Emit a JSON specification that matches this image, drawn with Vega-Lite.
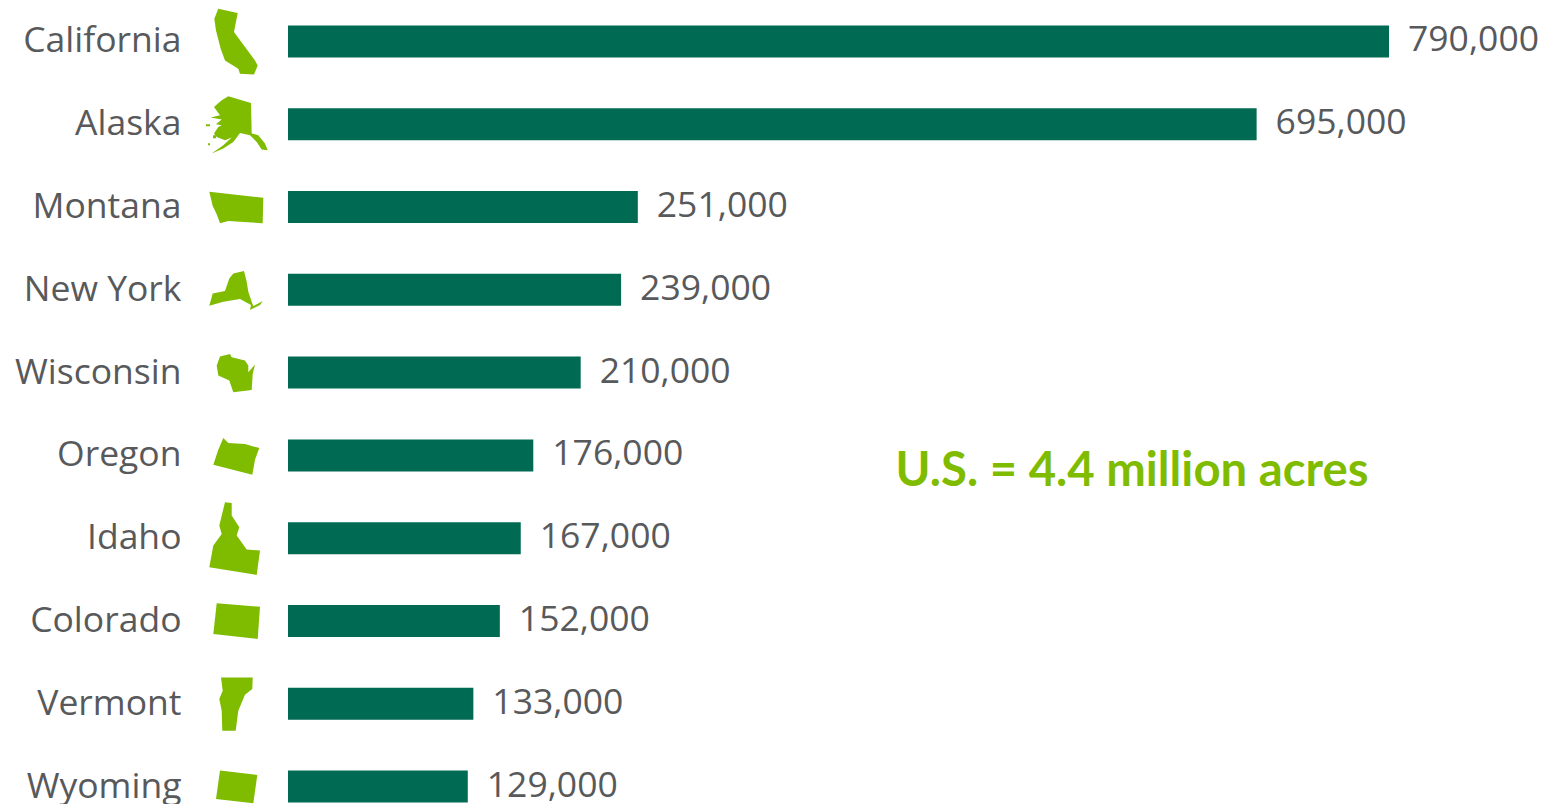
{"$schema":"https://vega.github.io/schema/vega-lite/v6.json","width":1263,"height":804,"autosize":"none","padding":{"left":288,"top":0,"right":0,"bottom":0},"background":"white","config":{"view":{"stroke":null}},"data":{"values":[{"state":"California","acres":790000},{"state":"Alaska","acres":695000},{"state":"Montana","acres":251000},{"state":"New York","acres":239000},{"state":"Wisconsin","acres":210000},{"state":"Oregon","acres":176000},{"state":"Idaho","acres":167000},{"state":"Colorado","acres":152000},{"state":"Vermont","acres":133000},{"state":"Wyoming","acres":129000}]},"encoding":{"y":{"field":"state","type":"nominal","sort":null,"title":null,"scale":{"range":[0,828],"paddingInner":0.614,"paddingOuter":0.307},"axis":{"domain":false,"ticks":false,"labelPadding":107,"labelFont":"Open Sans","labelFontSize":35.5,"labelColor":"#58595b","labelLimit":300,"grid":false}}},"layer":[{"mark":{"type":"bar","color":"#006a52","cornerRadius":0},"encoding":{"x":{"field":"acres","type":"quantitative","title":null,"scale":{"domain":[0,906220],"nice":false},"axis":null}}},{"mark":{"type":"text","align":"left","baseline":"middle","dx":19,"dy":-1,"font":"Open Sans","fontSize":35.5,"color":"#58595b"},"encoding":{"x":{"field":"acres","type":"quantitative"},"text":{"field":"acres","type":"quantitative","format":","}}},{"mark":{"type":"point","filled":true,"opacity":1,"size":4,"color":"#7fbc00"},"encoding":{"x":{"datum":-37311,"type":"quantitative"},"shape":{"field":"state","type":"nominal","legend":null,"scale":{"domain":["California","Alaska","Montana","New York","Wisconsin","Oregon","Idaho","Colorado","Vermont","Wyoming"],"range":["M-17.7 -32.7L1.7 -28.3L-2 -9.3L19 19L21.7 24L18 33L4 32.3L2.3 27.3L-11 19L-15.3 7.3L-20 -11L-21.7 -22.7Z","M-22 -17.3L-14.3 -24L-7.7 -28L15 -21.3L15.7 9.3L22.3 11L29 19.3L31.7 26L25.7 25.3L20.7 17.7L14 11L4 8.7L-2.7 17.7L-12.7 24.3L-24.3 29.3L-12.7 21L-4.3 13.3L-11 16L-19.3 12.7L-22 9.3L-17.7 2.7L-14.3 1L-20 0L-14.3 -4.7L-25.3 -6.7L-16 -9ZM-30 0L-26 0L-26 2L-30 2ZM-23 11L-20 11L-20 14L-23 14ZM-28 19L-26 19L-26 21L-28 21Z","M-26.7 -15.3L27.3 -9.3L26.7 16.3L-7.7 14L-16 16.3L-19.3 7.3L-23.3 -1Z","M-26.7 16L-23.3 3.7L-11 1.3L-6.7 -11.3L-2.7 -16.3L8 -18.7L10.7 -8L12.3 2L16.3 13.7L17.3 16.3L26.7 11.3L24 15.3L14 20.3L15 15.3L4 9.3L-12.7 12Z","M-16 -16L-6 -18.7L-4.3 -15.3L9 -12L12.3 -7L12.3 -0.3L19 -8L16.7 1.3L15.7 17.3L-2.7 19.7L-6.7 8L-17.7 3L-19.3 -7Z","M-12.7 -17.3L-7.7 -12.3L9 -11.3L23.3 -7.3L19 4.3L16.3 19.3L-22.7 9.3L-17.7 -5.7Z","M-11 -36L-4.3 -35.3L-4.3 -22.7L3.3 -11L0.7 -2.7L10.7 11.3L24 12.3L20.7 36.7L-26.7 29L-22.7 7.3L-14.3 -4.3L-16.7 -12.7Z","M-19.3 -17.7L24 -14.3L21.7 18L-22.7 13Z","M-15 -26.3L16.7 -26.3L16.3 -14.7L9 -9L2.3 7L-0.3 27L-13.7 27L-14.3 7L-16.7 -4.7L-13.3 -13Z","M-16 -16L21.3 -11.7L17.3 16.7L-20 12.3Z"]}}}},{"data":{"values":[{"note":"U.S. = 4.4 million acres"}]},"mark":{"type":"text","align":"center","baseline":"middle","dy":17,"font":"Lato","fontWeight":"bold","fontSize":47.3,"color":"#7fbc00"},"encoding":{"x":{"datum":605600,"type":"quantitative"},"y":{"datum":"Oregon"},"text":{"field":"note"}}}]}
